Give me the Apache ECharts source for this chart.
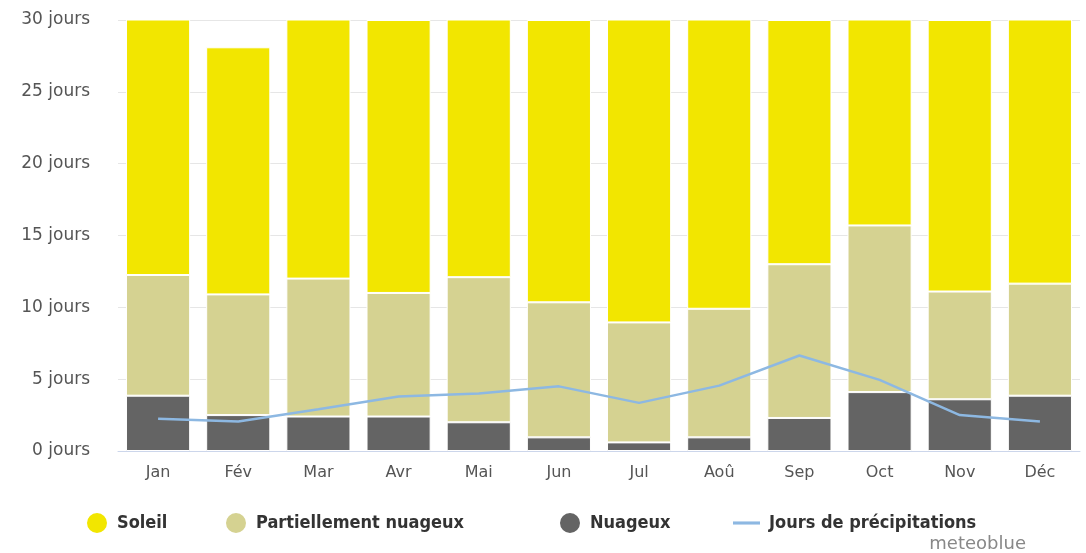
<!DOCTYPE html>
<html><head><meta charset="utf-8">
<script src="https://cdn.jsdelivr.net/npm/echarts@6/dist/echarts.min.js"></script>
<style>html,body{margin:0;padding:0;background:#fff}#c{width:1086px;height:553px}</style>
</head><body><div id="c"></div>
<script>
const months = ['Jan','Fév','Mar','Avr','Mai','Jun','Jul','Aoû','Sep','Oct','Nov','Déc'];
const nuageux = [3.85, 2.5, 2.4, 2.4, 2.0, 0.95, 0.6, 0.95, 2.3, 4.1, 3.6, 3.85];
const partiel = [8.4, 8.4, 9.6, 8.6, 10.1, 9.4, 8.35, 8.95, 10.7, 11.6, 7.5, 7.8];
const totalDays = [31, 28.1, 31, 30, 31, 30, 31, 31, 30, 31, 30, 31];
const precip = [2.25, 2.05, 2.9, 3.8, 4.0, 4.5, 3.35, 4.55, 6.65, 4.95, 2.5, 2.05];
const yTicks = [0, 5, 10, 15, 20, 25, 30];
const legendNames = ['Soleil', 'Partiellement nuageux', 'Nuageux', 'Jours de précipitations'];
const soleil = totalDays.map((t, i) => +(t - nuageux[i] - partiel[i]).toFixed(2));

const chart = echarts.init(document.getElementById('c'), null, {renderer: 'canvas'});
const font = '"DejaVu Sans", "Open Sans", sans-serif';
const legendLefts = [80, 219, 553, 728];
const legendBottoms = [13, 13, 13, 16];
const legendIcons = ['circle', 'circle', 'circle', 'path://M0,0 L26,0 L26,3 L0,3 Z'];
const legends = legendNames.map((n, i) => ({
  bottom: legendBottoms[i], left: legendLefts[i], itemWidth: i === 3 ? 27 : 22, itemHeight: 22,
  textStyle: {fontFamily: '"DejaVu Sans Condensed", "DejaVu Sans", sans-serif', fontSize: 18, fontWeight: 'bold', color: '#333', padding: [0, 0, 0, 4]},
  data: [{name: n, icon: legendIcons[i]}]
}));
chart.setOption({
  animation: false,
  grid: {left: 118, right: 6, top: 20, height: 431},
  legend: legends,
  graphic: [{type: 'text', right: 60, top: 535, style: {text: 'meteoblue', fill: '#888', font: '18px "DejaVu Sans", sans-serif'}}],
  xAxis: {
    type: 'category', data: months,
    axisLine: {lineStyle: {color: '#ccd6eb'}},
    axisTick: {alignWithLabel: true, length: 8, lineStyle: {color: '#ccd6eb'}},
    axisLabel: {color: '#555', fontSize: 16, fontFamily: font, margin: 14}
  },
  yAxis: {
    type: 'value', min: yTicks[0], max: yTicks[yTicks.length - 1], interval: 5,
    axisLabel: {formatter: '{value} jours', color: '#555', fontSize: 17, fontFamily: font, margin: 28},
    splitLine: {lineStyle: {color: '#e6e6e6'}},
    axisLine: {show: false}, axisTick: {show: false}
  },
  series: [
    {name: 'Nuageux', type: 'bar', stack: 's', data: nuageux, barCategoryGap: '20%',
     itemStyle: {color: '#646464', borderColor: '#fff', borderWidth: 1}},
    {name: 'Partiellement nuageux', type: 'bar', stack: 's', data: partiel,
     itemStyle: {color: '#d5d291', borderColor: '#fff', borderWidth: 1}},
    {name: 'Soleil', type: 'bar', stack: 's', data: soleil, clip: true,
     itemStyle: {color: '#f2e600', borderColor: '#fff', borderWidth: 1}},
    {name: 'Jours de précipitations', type: 'line', data: precip, symbol: 'none',
     lineStyle: {color: '#8db8e2', width: 2.5}, itemStyle: {color: '#8db8e2'}, z: 5}
  ]
});
</script></body></html>
